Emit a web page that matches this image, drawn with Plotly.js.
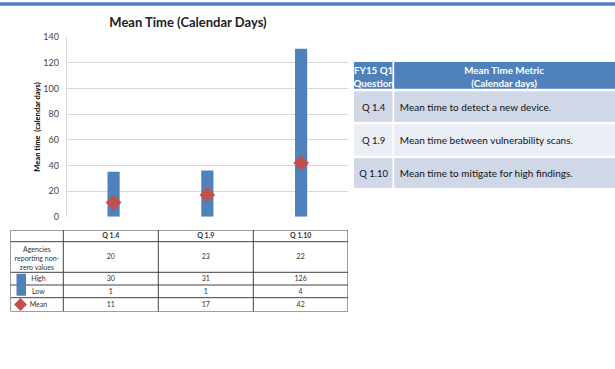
<!DOCTYPE html>
<html><head><meta charset="utf-8">
<script src="https://cdn.plot.ly/plotly-3.0.1.min.js"></script>
<style>html,body{margin:0;padding:0;background:#fff}#chart{width:615px;height:369px}</style>
</head><body><div id="chart"></div>
<script>
// ---- data ----
const questions = ["Q 1.4", "Q 1.9", "Q 1.10"];
const barTop = [35, 36, 131];          // bar heights as drawn in the chart
const meanVals = [11, 17, 42];
const agencies = [20, 23, 22];
const highVals = [30, 31, 126];
const lowVals = [1, 1, 4];
const rowLabels = ["Agencies<br>reporting non-<br>zero values", "High", "Low", "Mean"];
const metricHeader = ["<b>FY15 Q1<br>Question</b>", "<b>Mean Time Metric<br>(Calendar days)</b>"];
const metricDesc = ["Mean time to detect a new device.", "Mean time between vulnerability scans.", "Mean time to mitigate for high findings."];

// ---- layout constants ----
const W = 615, H = 369;
const px = x => x / W, py = y => 1 - y / H;
const FONT = "Lato, 'Open Sans', sans-serif";
const BLUE = "#4f81bd", RED = "#c0504d";

// left table grid (pixel units inside its own axes)
const LT = {x0: 10.5, x1: 348, y0: 230, y1: 311.5};
const ltCols = [0, 52.8, 147.8, 242.8, 337.5];
const ltRows = [0, 11.7, 42.3, 55, 67.7, 81.5];
// right table grid
const RT = {x0: 354, x1: 615, y0: 61.7, y1: 188.3};
const rtCols = [0, 39.3, 261];
const rtRows = [0, 28.3, 61.6, 95, 126.6];

const mid = (a, i) => (a[i] + a[i + 1]) / 2;
const traces = [];

// ---- chart ----
traces.push({type: "bar", x: questions, y: barTop, marker: {color: BLUE}, hoverinfo: "skip", showlegend: false});
traces.push({type: "scatter", mode: "markers", x: questions, y: meanVals,
  marker: {symbol: "diamond", size: 12, color: RED}, showlegend: false});

// ---- left table ----
const shapes = [];
shapes.push({type: "line", xref: "paper", yref: "paper", x0: 0, x1: 1, y0: py(4), y1: py(4),
  line: {color: BLUE, width: 3.5}});
ltRows.forEach(r => shapes.push({type: "line", xref: "x2", yref: "y2", x0: 0, x1: ltCols[ltCols.length - 1], y0: r, y1: r,
  line: {color: "#404040", width: 1}}));
ltCols.forEach(c => shapes.push({type: "line", xref: "x2", yref: "y2", x0: c, x1: c, y0: 0, y1: ltRows[ltRows.length - 1],
  line: {color: "#404040", width: 1}}));
// legend swatch (bar) spanning High & Low rows
shapes.push({type: "rect", xref: "x2", yref: "y2", x0: 6, x1: 15.5, y0: ltRows[2] + 1.5, y1: ltRows[4] - 2,
  fillcolor: BLUE, line: {width: 0}});

const colVals = [agencies, highVals, lowVals, meanVals];
const ltFont = {family: FONT, size: 7, color: "#333"};
const dy = 0.6;   // small baseline nudge
// header
traces.push({type: "scatter", mode: "text", xaxis: "x2", yaxis: "y2",
  x: questions.map((q, i) => mid(ltCols, i + 1)), y: questions.map(() => mid(ltRows, 0) + dy),
  text: questions.map(q => "<b>" + q + "</b>"), textposition: "middle center",
  textfont: ltFont, showlegend: false, hoverinfo: "skip"});
// row labels
traces.push({type: "scatter", mode: "text", xaxis: "x2", yaxis: "y2",
  x: rowLabels.map((r, i) => i === 0 ? mid(ltCols, 0) : mid(ltCols, 0) + 1.5),
  y: rowLabels.map((r, i) => mid(ltRows, i + 1) + (i === 0 ? 2.5 : dy)),
  text: rowLabels, textposition: "middle center", textfont: ltFont, showlegend: false, hoverinfo: "skip"});
// values
questions.forEach((q, j) => {
  traces.push({type: "scatter", mode: "text", xaxis: "x2", yaxis: "y2",
    x: colVals.map(() => mid(ltCols, j + 1)), y: colVals.map((v, i) => mid(ltRows, i + 1) + dy),
    text: colVals.map(v => String(v[j])), textposition: "middle center", textfont: ltFont,
    showlegend: false, hoverinfo: "skip"});
});
// legend diamond
traces.push({type: "scatter", mode: "markers", xaxis: "x2", yaxis: "y2",
  x: [10], y: [mid(ltRows, 4)], marker: {symbol: "diamond", size: 10, color: RED},
  showlegend: false, hoverinfo: "skip"});

// ---- right table ----
const rowFill = ["#d0d8e8", "#e9edf4", "#d0d8e8"];
shapes.push({type: "rect", xref: "x3", yref: "y3", x0: 0, x1: rtCols[2], y0: rtRows[0], y1: rtRows[1],
  fillcolor: BLUE, line: {width: 0}, layer: "below"});
rowFill.forEach((f, i) => shapes.push({type: "rect", xref: "x3", yref: "y3", x0: 0, x1: rtCols[2],
  y0: rtRows[i + 1], y1: rtRows[i + 2], fillcolor: f, line: {width: 0}, layer: "below"}));
rtRows.slice(1, -1).forEach(r => shapes.push({type: "line", xref: "x3", yref: "y3", x0: 0, x1: rtCols[2], y0: r, y1: r,
  line: {color: "#fff", width: 2.5}}));
shapes.push({type: "line", xref: "x3", yref: "y3", x0: rtCols[1], x1: rtCols[1], y0: 0, y1: rtRows[4],
  line: {color: "#fff", width: 1.8}});

traces.push({type: "scatter", mode: "text", xaxis: "x3", yaxis: "y3",
  x: [mid(rtCols, 0), mid(rtCols, 1)], y: [mid(rtRows, 0) + 2.5, mid(rtRows, 0) + 2.5],
  text: metricHeader, textposition: "middle center",
  textfont: {family: FONT, size: 9.8, color: "#fff"}, showlegend: false, hoverinfo: "skip"});
traces.push({type: "scatter", mode: "text", xaxis: "x3", yaxis: "y3",
  x: questions.map(() => mid(rtCols, 0)), y: questions.map((q, i) => mid(rtRows, i + 1) + 2),
  text: questions, textposition: "middle center",
  textfont: {family: FONT, size: 9.5, color: "#111"}, showlegend: false, hoverinfo: "skip"});
traces.push({type: "scatter", mode: "text", xaxis: "x3", yaxis: "y3",
  x: metricDesc.map(() => rtCols[1] + 6.5), y: metricDesc.map((q, i) => mid(rtRows, i + 1) + 2),
  text: metricDesc, textposition: "middle right",
  textfont: {family: FONT, size: 10, color: "#111"}, showlegend: false, hoverinfo: "skip"});

const hiddenAxis = (domain, range) => ({domain, range, showgrid: false, zeroline: false, showline: false,
  showticklabels: false, ticks: "", fixedrange: true});

const layout = {
  width: W, height: H, margin: {l: 0, r: 0, t: 0, b: 0},
  paper_bgcolor: "#fff", plot_bgcolor: "rgba(0,0,0,0)",
  font: {family: FONT},
  title: {text: "Mean Time (Calendar Days)", x: px(188), xanchor: "center",
          y: py(22), yanchor: "middle", font: {family: FONT, size: 13, weight: "bold", color: "#222"}},
  xaxis: {domain: [px(66.7), px(348)], showticklabels: false, showgrid: false,
          zeroline: false, showline: false, fixedrange: true},
  yaxis: {domain: [py(216.7), py(37.3)], range: [0, 140], dtick: 20,
          gridcolor: "#d9d9d9", gridwidth: 1, zeroline: false,
          showline: true, linecolor: "#d9d9d9", linewidth: 1,
          ticks: "outside", ticklen: 5, tickcolor: "rgba(0,0,0,0)",
          tickfont: {family: FONT, size: 9, color: "#444"},
          title: {text: "Mean time  (calendar days)", standoff: 1,
                  font: {family: FONT, size: 7.6, weight: "bold", color: "#000"}}},
  xaxis2: Object.assign(hiddenAxis([px(LT.x0), px(LT.x1)], [0, LT.x1 - LT.x0]), {anchor: "y2"}),
  yaxis2: Object.assign(hiddenAxis([py(LT.y1), py(LT.y0)], [LT.y1 - LT.y0, 0]), {anchor: "x2"}),
  xaxis3: Object.assign(hiddenAxis([px(RT.x0), px(RT.x1)], [0, RT.x1 - RT.x0]), {anchor: "y3"}),
  yaxis3: Object.assign(hiddenAxis([py(RT.y1), py(RT.y0)], [RT.y1 - RT.y0, 0]), {anchor: "x3"}),
  bargap: 0.87,
  shapes
};

Plotly.newPlot("chart", traces, layout, {displayModeBar: false, staticPlot: true});
</script></body></html>
